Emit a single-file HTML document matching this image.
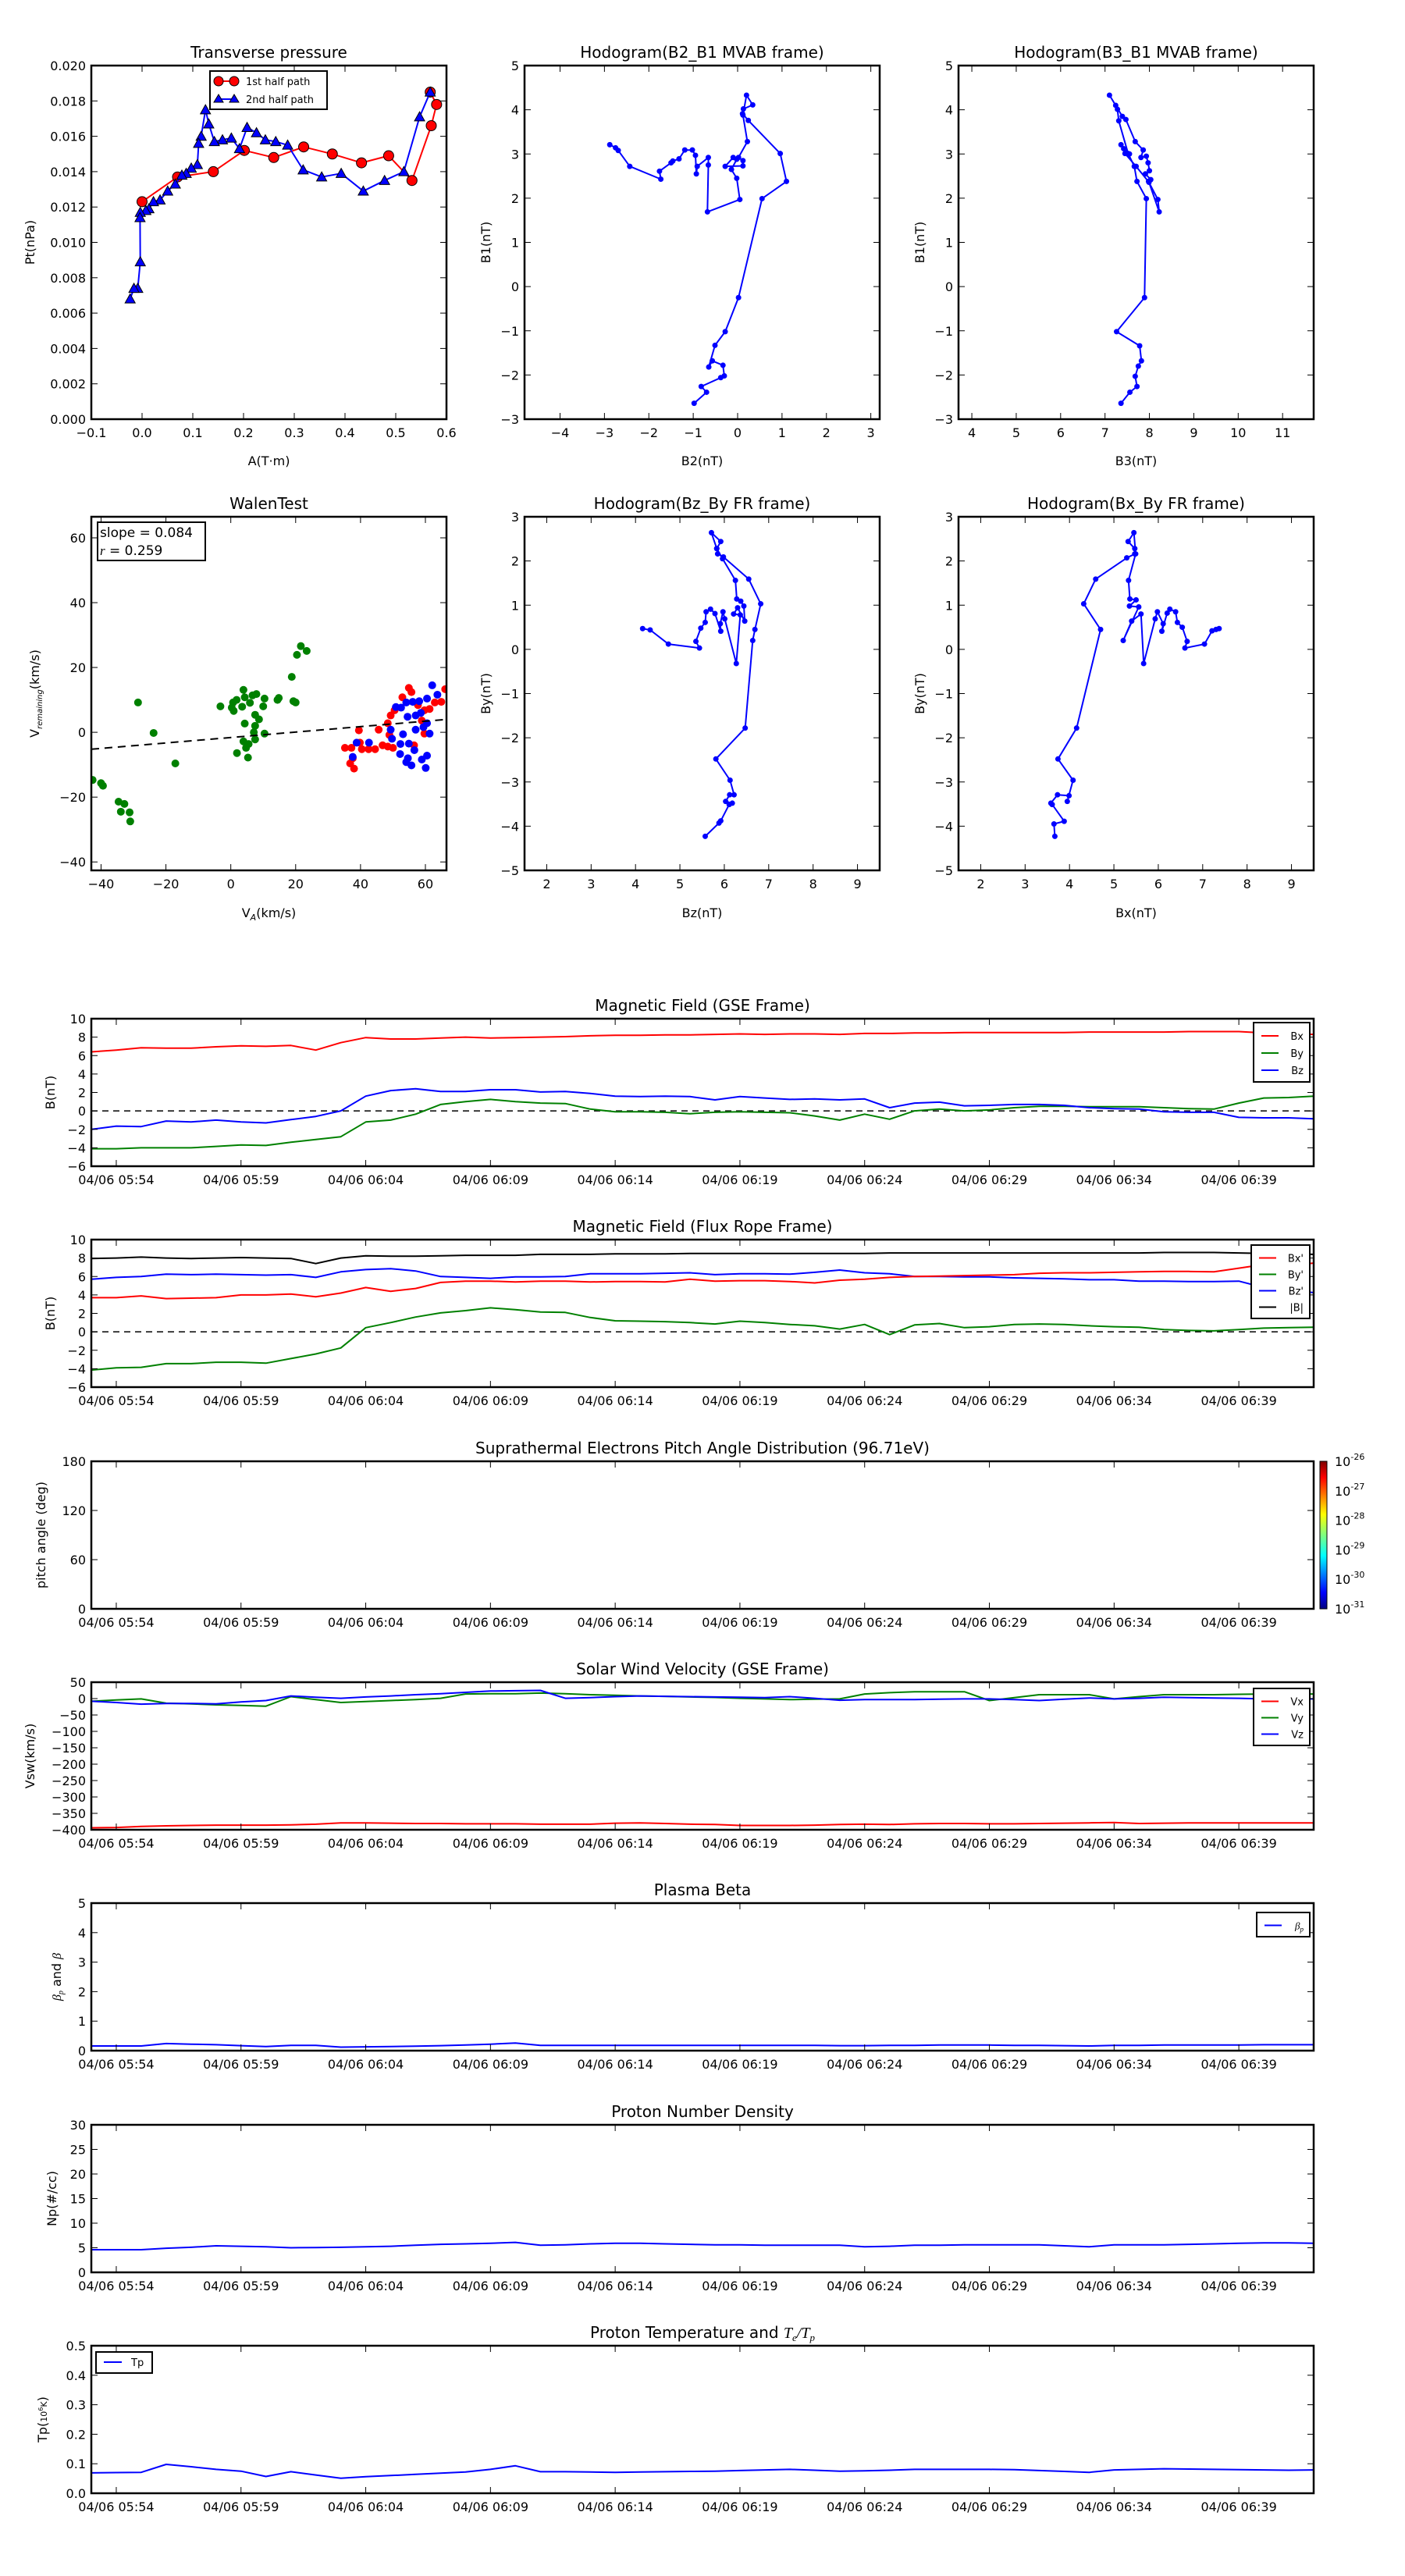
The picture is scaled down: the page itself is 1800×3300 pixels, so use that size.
<!DOCTYPE html>
<html><head><meta charset="utf-8"><title>Flux rope analysis</title>
<style>
html,body{margin:0;padding:0;background:#fff;}
svg{display:block;font-family:"DejaVu Sans","Liberation Sans",sans-serif;}
</style></head>
<body>
<svg id="fig" xmlns="http://www.w3.org/2000/svg" width="1800" height="3300" viewBox="0 0 1800 3300">
<defs>
<linearGradient id="jet" x1="0" y1="1" x2="0" y2="0">
<stop offset="0" stop-color="#00007f"/><stop offset="0.11" stop-color="#0000ff"/><stop offset="0.36" stop-color="#00ffff"/><stop offset="0.5" stop-color="#7fff7f"/><stop offset="0.64" stop-color="#ffff00"/><stop offset="0.89" stop-color="#ff0000"/><stop offset="1" stop-color="#7f0000"/>
</linearGradient>
</defs>
</svg>
<script>
// ---------- DATA ----------
const ptRedA=[0.0,0.070,0.1405,0.2015,0.2595,0.3185,0.375,0.4325,0.486,0.532,0.570,0.5805,0.568];
const ptRedP=[0.0123,0.0137,0.0140,0.0152,0.0148,0.0154,0.0150,0.0145,0.0149,0.0135,0.0166,0.0178,0.0185];
const ptBlueA=[0.568,0.547,0.516,0.478,0.436,0.3925,0.354,0.3175,0.287,0.2635,0.243,0.2255,0.207,0.192,0.176,0.1585,0.1425,0.1315,0.125,0.1165,0.1115,0.109,0.097,0.087,0.0785,0.0655,0.0505,0.0355,0.0225,0.0135,0.0075,-0.0035,-0.004,-0.0035,-0.0085,-0.016,-0.0235];
const ptBlueP=[0.0185,0.0171,0.0140,0.0135,0.0129,0.0139,0.0137,0.0141,0.0155,0.0157,0.0158,0.0162,0.0165,0.0153,0.0159,0.0158,0.0157,0.0167,0.0175,0.0160,0.0156,0.0144,0.0142,0.0139,0.0138,0.0133,0.0129,0.0124,0.0123,0.0119,0.0118,0.0117,0.0114,0.0089,0.0074,0.0074,0.0068];

const h1B2=[-0.98,-0.70,-0.82,-0.38,-0.30,-0.33,-0.57,-0.65,-0.51,-0.28,0.02,0.55,1.10,0.96,0.24,0.11,0.13,0.34,0.20,0.12,0.22,0.02,0.12,0.12,-0.28,-0.10,-0.02,-0.14,-0.02,0.05,-0.68,-0.66,-0.66,-0.91,-0.93,-0.95,-1.02,-1.19,-1.32,-1.46,-1.50,-1.76,-1.73,-2.43,-2.69,-2.75,-2.88];
const h1B1=[-2.64,-2.39,-2.26,-2.06,-2.02,-1.78,-1.68,-1.82,-1.33,-1.02,-0.25,1.99,2.38,3.01,3.76,3.91,4.02,4.11,4.33,3.88,3.28,2.92,2.85,2.73,2.72,2.92,2.88,2.65,2.45,1.97,1.69,2.75,2.92,2.72,2.55,2.97,3.09,3.09,2.89,2.84,2.80,2.61,2.43,2.72,3.08,3.14,3.21];

const h2B3=[7.36,7.56,7.72,7.68,7.75,7.82,7.78,7.26,7.89,7.93,7.72,7.66,7.52,7.31,7.28,7.24,7.10,7.39,7.47,7.68,7.86,7.81,7.93,7.97,8.00,7.91,8.03,7.98,8.19,8.22,7.99,7.70,7.45,7.36,7.42,7.55];
const h2B1=[-2.64,-2.39,-2.26,-2.03,-1.80,-1.68,-1.34,-1.02,-0.25,1.99,2.38,2.72,3.01,3.75,4.01,4.10,4.33,3.85,3.78,3.28,3.09,2.92,2.95,2.80,2.62,2.55,2.42,2.38,1.97,1.69,2.36,2.72,3.01,3.21,3.12,3.00];

const wGreenVA=[-42.6,-40,-39.4,-34.6,-32.8,-33.9,-31.2,-31,-28.6,-23.8,-17.1,-3.2,0.3,0.9,0.7,1.8,3.9,4.3,3.5,5.9,6.7,7.9,10.4,10.0,7.5,8.7,4.3,7.5,7.1,10.4,7.5,3.9,5.5,4.7,1.9,5.3,14.4,14.8,19.3,20,18.8,20.4,21.6,23.4];
const wGreenVR=[-14.7,-15.7,-16.5,-21.4,-22.1,-24.5,-24.7,-27.5,9.2,-0.2,-9.6,8.0,7.6,6.6,9.2,10.0,13.1,10.8,7.9,9.1,11.4,11.8,10.4,8.0,5.4,4.0,2.7,2.0,0,-0.4,-2.2,-2.8,-3.6,-4.8,-6.4,-7.8,10.0,10.6,9.6,9.2,17.1,23.9,26.6,25.1];
const wRedVA=[35.2,37.2,38,36.8,37.6,39.5,39.8,40.4,42.5,44.5,46.8,48.4,50.0,45.6,48.4,48.9,49.3,50.5,52.9,54.9,55.7,56.5,59.7,59.7,61.3,62.9,64.9,66.1,57.7,58.9];
const wRedVR=[-4.8,-4.8,-11.2,-9.6,-8.0,0.6,-3.2,-5.2,-5.2,-5.2,-4.0,-4.4,-4.8,0.8,2.8,-0.8,5.2,6.8,10.8,13.7,12.4,-4.0,-0.4,6.8,7.2,9.2,9.4,13.3,8.4,3.6];
const wBlueVA=[38.8,37.6,42.6,49.3,49.7,50.9,52.5,54.1,56.1,58.1,60.5,62.1,63.7,54.5,53.1,52.3,54.9,56.6,52.2,54.6,54.1,55.7,58.9,60.5,60.1,57.0,58.6,57.0,59.4,61.3,60.5];
const wBlueVR=[-3.2,-7.6,-3.2,0.8,-2.0,7.8,7.6,9.2,9.4,9.6,10.4,14.5,11.6,4.8,-0.6,-3.6,-3.5,-5.5,-6.7,-8.0,-9.2,-10.2,-8.4,-7.2,-11.0,5.2,6.0,0.8,1.6,-0.4,2.8];
const walenSlope=0.084, walenIntercept=-1.6;

const h3Bz=[5.57,5.88,5.92,6.11,6.18,6.03,6.12,6.22,6.13,5.81,6.47,6.64,6.69,6.82,6.55,5.98,5.85,5.83,5.92,5.71,5.83,5.96,6.25,6.28,6.37,6.44,6.46,6.30,6.21,6.36,6.27,6.01,5.97,5.91,5.92,5.79,5.69,5.59,5.57,5.47,5.36,5.44,4.74,4.33,4.16];
const h3By=[-4.23,-3.93,-3.88,-3.51,-3.48,-3.44,-3.29,-3.29,-2.96,-2.48,-1.78,0.20,0.45,1.03,1.59,2.09,2.16,2.28,2.44,2.64,2.28,2.05,1.56,1.14,1.09,0.98,0.64,0.94,0.80,0.78,-0.32,0.69,0.85,0.58,0.41,0.81,0.91,0.85,0.61,0.48,0.18,0.03,0.12,0.44,0.47];

const h4Bx=[3.67,3.65,3.88,3.61,3.58,3.73,3.99,3.95,4.08,3.74,4.16,4.70,4.32,4.59,5.29,5.47,5.47,5.32,5.45,5.49,5.33,5.36,5.50,5.35,5.56,5.21,5.40,5.61,5.67,5.93,5.98,6.11,6.08,6.20,6.26,6.39,6.43,6.54,6.65,6.60,7.04,7.21,7.30,7.37];
const h4By=[-4.23,-3.95,-3.89,-3.51,-3.48,-3.29,-3.31,-3.44,-2.96,-2.48,-1.78,0.45,1.03,1.59,2.07,2.16,2.28,2.44,2.64,2.16,1.56,1.14,1.12,0.98,0.96,0.20,0.64,0.80,-0.32,0.69,0.85,0.58,0.41,0.82,0.91,0.85,0.61,0.50,0.18,0.03,0.12,0.42,0.45,0.47];

const timeTickIdx=[1,6,11,16,21,26,31,36,41,46];
const timeTickLabels=["04/06 05:54","04/06 05:59","04/06 06:04","04/06 06:09","04/06 06:14","04/06 06:19","04/06 06:24","04/06 06:29","04/06 06:34","04/06 06:39"];

const gseBx=[6.4,6.6,6.85,6.8,6.8,6.95,7.05,7.0,7.1,6.6,7.4,7.95,7.8,7.8,7.9,8.0,7.9,7.95,8.0,8.05,8.15,8.2,8.2,8.25,8.25,8.3,8.35,8.3,8.35,8.35,8.3,8.4,8.4,8.45,8.45,8.5,8.5,8.5,8.5,8.5,8.55,8.55,8.55,8.55,8.6,8.6,8.6,8.45,8.35,8.3];
const gseBy=[-4.1,-4.1,-4.0,-4.0,-4.0,-3.85,-3.7,-3.75,-3.4,-3.1,-2.8,-1.2,-1.0,-0.35,0.7,1.0,1.25,1.0,0.85,0.8,0.2,-0.1,-0.1,-0.15,-0.3,-0.15,-0.1,-0.15,-0.2,-0.55,-1.0,-0.35,-0.9,0.0,0.2,0.0,0.1,0.35,0.5,0.5,0.45,0.45,0.45,0.35,0.25,0.2,0.85,1.4,1.45,1.6];
const gseBz=[-2.0,-1.65,-1.7,-1.1,-1.2,-1.0,-1.2,-1.3,-0.95,-0.6,0.0,1.6,2.2,2.4,2.1,2.1,2.3,2.3,2.05,2.1,1.9,1.6,1.55,1.6,1.55,1.2,1.55,1.4,1.25,1.3,1.2,1.3,0.35,0.85,0.95,0.55,0.6,0.7,0.7,0.6,0.35,0.25,0.2,-0.1,-0.15,-0.15,-0.7,-0.75,-0.75,-0.85];

const frBx=[3.7,3.7,3.9,3.6,3.65,3.7,4.0,4.0,4.1,3.8,4.2,4.8,4.4,4.7,5.35,5.5,5.5,5.4,5.5,5.5,5.4,5.45,5.45,5.4,5.7,5.5,5.55,5.55,5.45,5.3,5.6,5.7,5.9,6.0,6.05,6.1,6.15,6.2,6.35,6.4,6.4,6.45,6.5,6.55,6.55,6.5,6.9,7.3,7.2,7.45];
const frBy=[-4.15,-3.9,-3.85,-3.45,-3.45,-3.3,-3.3,-3.4,-2.9,-2.4,-1.75,0.45,1.0,1.6,2.05,2.3,2.6,2.4,2.15,2.1,1.55,1.2,1.15,1.1,1.0,0.85,1.15,1.0,0.8,0.65,0.3,0.8,-0.3,0.75,0.9,0.45,0.55,0.8,0.85,0.8,0.65,0.55,0.5,0.25,0.15,0.1,0.25,0.4,0.45,0.5];
const frBz=[5.7,5.9,6.0,6.25,6.2,6.25,6.2,6.15,6.2,5.9,6.5,6.75,6.85,6.6,6.0,5.9,5.8,5.95,5.95,6.0,6.3,6.3,6.3,6.35,6.4,6.2,6.3,6.3,6.25,6.45,6.7,6.4,6.3,6.0,6.0,5.95,5.95,5.85,5.8,5.75,5.65,5.65,5.5,5.5,5.45,5.45,5.5,4.8,4.5,4.25];
const frBt=[7.95,8.0,8.1,8.0,7.95,8.0,8.05,8.0,7.95,7.4,8.0,8.25,8.2,8.2,8.25,8.3,8.3,8.3,8.4,8.4,8.4,8.45,8.45,8.45,8.5,8.5,8.5,8.5,8.5,8.5,8.5,8.5,8.55,8.55,8.55,8.55,8.55,8.55,8.55,8.55,8.55,8.55,8.55,8.6,8.6,8.6,8.55,8.5,8.45,8.4];

const pitchTicks=[0,60,120,180];
const cbarLabels=["-26","-27","-28","-29","-30","-31"];

const velVx=[-394,-393,-390,-388,-387,-386,-386,-386,-385,-383,-379,-379,-380,-381,-381,-382,-382,-382,-383,-383,-383,-380,-379,-381,-383,-384,-387,-387,-387,-386,-384,-383,-384,-382,-381,-381,-382,-382,-381,-380,-379,-378,-381,-380,-379,-379,-379,-379,-379,-379];
const velVy=[-8,-4,-1,-14,-16,-19,-21,-23,6,-3,-12,-9,-6,-3,1,14,15,15,17,15,12,10,8,7,5,3.5,1,-1,-3,-2,-1,14,18,21,21,21,-6,3,12,12,12,-1,6,12,12,12,13,14,14,14];
const velVz=[-8,-12,-17,-15,-15,-16,-10,-6,8,4,1,5,8,12,15,19,23,24,25,1,3,6,8,7,6,5,4,3,6,1,-5,-3,-3,-3,-2,-1,-1,-3,-6,-2,2,-1,1,4,3,2,1,-1,-1,-1];

const betaP=[0.16,0.16,0.16,0.24,0.22,0.20,0.17,0.14,0.18,0.18,0.12,0.13,0.14,0.15,0.17,0.19,0.22,0.26,0.18,0.18,0.18,0.18,0.18,0.18,0.18,0.18,0.18,0.18,0.18,0.18,0.17,0.17,0.18,0.18,0.19,0.19,0.19,0.18,0.18,0.17,0.16,0.18,0.18,0.19,0.19,0.19,0.19,0.2,0.2,0.2];
const densNp=[4.6,4.6,4.6,4.9,5.1,5.4,5.3,5.2,5.0,5.05,5.1,5.2,5.3,5.5,5.7,5.8,5.9,6.1,5.5,5.6,5.8,5.9,5.9,5.8,5.7,5.6,5.6,5.5,5.5,5.5,5.5,5.2,5.3,5.5,5.5,5.6,5.6,5.6,5.6,5.4,5.2,5.6,5.6,5.6,5.7,5.8,5.9,6.0,6.0,5.9];
const tempTp=[0.069,0.070,0.071,0.098,0.090,0.081,0.075,0.057,0.073,0.062,0.051,0.056,0.060,0.064,0.068,0.072,0.081,0.093,0.073,0.073,0.072,0.071,0.072,0.073,0.074,0.075,0.077,0.079,0.081,0.078,0.075,0.076,0.078,0.081,0.081,0.081,0.081,0.080,0.077,0.074,0.071,0.079,0.081,0.083,0.082,0.081,0.080,0.079,0.078,0.079];

// ---------- HELPERS ----------
const NS="http://www.w3.org/2000/svg";
const svg=document.getElementById('fig');
function mk(tag,parent){const e=document.createElementNS(NS,tag);parent.appendChild(e);return e;}
function set(e,o){for(const k in o)e.setAttribute(k,o[k]);return e;}
function fmt(v,d){const s=v.toFixed(d);return v<0?'\u2212'+s.slice(1):s;}
let clipN=0;
function makeAxes(name,x0,y0,w,h,xmin,xmax,ymin,ymax){
  const g=mk('g',svg);
  
  
  const ax={g,x0,y0,w,h,sx:v=>x0+(v-xmin)/(xmax-xmin)*w,sy:v=>y0+h-(v-ymin)/(ymax-ymin)*h};
  const cp=mk('clipPath',svg);cp.id='c'+(++clipN);
  set(mk('rect',cp),{x:x0,y:y0,width:w,height:h});
  ax.clip='url(#c'+clipN+')';
  return ax;
}
function frame(ax,xt,xl,yt,yl){
  const g=mk('g',ax.g);
  
  
  xt.forEach((v,i)=>{const x=ax.sx(v);
    set(mk('line',g),{x1:x,x2:x,y1:ax.y0+ax.h,y2:ax.y0+ax.h-8,stroke:'#000','stroke-width':1});
    set(mk('line',g),{x1:x,x2:x,y1:ax.y0,y2:ax.y0+8,stroke:'#000','stroke-width':1});
    const t=set(mk('text',g),{x:x,y:ax.y0+ax.h+23,'text-anchor':'middle','font-size':16});
    t.textContent=xl[i];
    
    
  });
  yt.forEach((v,i)=>{const y=ax.sy(v);
    set(mk('line',g),{x1:ax.x0,x2:ax.x0+8,y1:y,y2:y,stroke:'#000','stroke-width':1});
    set(mk('line',g),{x1:ax.x0+ax.w,x2:ax.x0+ax.w-8,y1:y,y2:y,stroke:'#000','stroke-width':1});
    const t=set(mk('text',g),{x:ax.x0-7,y:y+6,'text-anchor':'end','font-size':16});
    t.textContent=yl[i];
    
    
  });
  const r=set(mk('rect',ax.g),{x:ax.x0,y:ax.y0,width:ax.w,height:ax.h,fill:'none',stroke:'#000','stroke-width':2.5});
  
  
}
function title(ax,txt,html){
  const t=set(mk('text',ax.g),{x:ax.x0+ax.w/2,y:ax.y0-10,'text-anchor':'middle','font-size':20});
  if(html)t.innerHTML=html;else t.textContent=txt;
  
  
}
function xlabel(ax,txt,y,html){
  const t=set(mk('text',ax.g),{x:ax.x0+ax.w/2,y:y,'text-anchor':'middle','font-size':16});
  if(html)t.innerHTML=html;else t.textContent=txt;
  
  
}
function ylabel(ax,txt,x,html){
  const cy=ax.y0+ax.h/2;
  const t=set(mk('text',ax.g),{x:x,y:cy,'text-anchor':'middle','font-size':16,transform:'rotate(-90 '+x+' '+cy+')'});
  if(html)t.innerHTML=html;else t.textContent=txt;
  
  
}
function line(ax,xs,ys,color,name,w){
  const d=xs.map((x,i)=>(i?'L':'M')+ax.sx(x).toFixed(1)+','+ax.sy(ys[i]).toFixed(1)).join('');
  const p=set(mk('path',ax.g),{d:d,fill:'none',stroke:color,'stroke-width':w||2,'clip-path':ax.clip,'stroke-linejoin':'round'});
  
  
  return p;
}
function dots(ax,xs,ys,color,r,name,stroke){
  const g=mk('g',ax.g);
  
  
  g.setAttribute('clip-path',ax.clip);
  xs.forEach((x,i)=>{
    const c=set(mk('circle',g),{cx:ax.sx(x),cy:ax.sy(ys[i]),r:r,fill:color});
    if(stroke)set(c,{stroke:'#000','stroke-width':1});
    
    
  });
}
function tris(ax,xs,ys,color,s,name){
  const g=mk('g',ax.g);
  
  
  xs.forEach((x,i)=>{const cx=ax.sx(x),cy=ax.sy(ys[i]);
    const p=set(mk('polygon',g),{points:`${cx},${cy-s} ${cx-s},${cy+s*0.8} ${cx+s},${cy+s*0.8}`,fill:color,stroke:'#000','stroke-width':1});
    
    
  });
}
function range(a,b,s){const r=[];for(let v=a;v<=b+1e-9;v+=s)r.push(+v.toFixed(6));return r;}
function legend(ax,x,y,w,entries,rowH){
  const g=mk('g',ax.g);
  
  
  set(mk('rect',g),{x:x,y:y,width:w,height:entries.length*rowH+10,fill:'#fff',stroke:'#000','stroke-width':2});
  entries.forEach((e,i)=>{const cy=y+10+rowH*i+rowH/2-4;
    const eg=mk('g',g);
    
    
    set(mk('line',eg),{x1:x+10,x2:x+32,y1:cy,y2:cy,stroke:e.c,'stroke-width':2});
    const t=set(mk('text',eg),{x:x+w-8,y:cy+5,'text-anchor':'end','font-size':13});
    if(e.html)t.innerHTML=e.html;else t.textContent=e.t;
  });
}

// ---------- TOP ROW ----------
const C=[117,672,1228], W=455, R1=84, R2=662, H=453;
let ax=makeAxes('transverse-pressure-chart',C[0],R1,W,H,-0.1,0.6,0,0.020);
line(ax,ptRedA,ptRedP,'#ff0000','first-half-line');
dots(ax,ptRedA,ptRedP,'#ff0000',6.5,'first-half-markers',true);
line(ax,ptBlueA,ptBlueP,'#0000ff','second-half-line');
tris(ax,ptBlueA,ptBlueP,'#0000ff',6.5,'second-half-markers');
frame(ax,range(-0.1,0.6,0.1),range(-0.1,0.6,0.1).map(v=>fmt(v,1)),range(0,0.02,0.002),range(0,0.02,0.002).map(v=>fmt(v,3)));
title(ax,'Transverse pressure');xlabel(ax,'A(T·m)',596);ylabel(ax,'Pt(nPa)',44);
{const g=mk('g',ax.g);
 
 
 set(mk('rect',g),{x:269,y:91,width:150,height:49,fill:'#fff',stroke:'#000','stroke-width':2});
 set(mk('line',g),{x1:280,x2:300,y1:104,y2:104,stroke:'#f00','stroke-width':2});
 set(mk('circle',g),{cx:280,cy:104,r:6,fill:'#f00',stroke:'#000'});set(mk('circle',g),{cx:300,cy:104,r:6,fill:'#f00',stroke:'#000'});
 set(mk('line',g),{x1:280,x2:300,y1:127,y2:127,stroke:'#00f','stroke-width':2});
 set(mk('polygon',g),{points:'280,121 274,131 286,131',fill:'#00f',stroke:'#000'});set(mk('polygon',g),{points:'300,121 294,131 306,131',fill:'#00f',stroke:'#000'});
 const t1=set(mk('text',g),{x:315,y:109,'font-size':13});t1.textContent='1st half path';
 const t2=set(mk('text',g),{x:315,y:132,'font-size':13});t2.textContent='2nd half path';}

ax=makeAxes('hodogram-b2-b1-chart',C[1],R1,W,H,-4.8,3.2,-3,5);
line(ax,h1B2,h1B1,'#0000ff','hodogram-line');dots(ax,h1B2,h1B1,'#0000ff',3.5,'hodogram-points');
frame(ax,range(-4,3,1),range(-4,3,1).map(v=>fmt(v,0)),range(-3,5,1),range(-3,5,1).map(v=>fmt(v,0)));
title(ax,'Hodogram(B2_B1 MVAB frame)');xlabel(ax,'B2(nT)',596);ylabel(ax,'B1(nT)',628);

ax=makeAxes('hodogram-b3-b1-chart',C[2],R1,W,H,3.7,11.7,-3,5);
line(ax,h2B3,h2B1,'#0000ff','hodogram-line');dots(ax,h2B3,h2B1,'#0000ff',3.5,'hodogram-points');
frame(ax,range(4,11,1),range(4,11,1).map(v=>fmt(v,0)),range(-3,5,1),range(-3,5,1).map(v=>fmt(v,0)));
title(ax,'Hodogram(B3_B1 MVAB frame)');xlabel(ax,'B3(nT)',596);ylabel(ax,'B1(nT)',1184);

// ---------- SECOND ROW ----------
ax=makeAxes('walen-test-chart',C[0],R2,W,H,-43,66.5,-42.6,66.5);
dots(ax,wGreenVA,wGreenVR,'#008000',5,'walen-green-points');
dots(ax,wRedVA,wRedVR,'#ff0000',5,'walen-red-points');
dots(ax,wBlueVA,wBlueVR,'#0000ff',5,'walen-blue-points');
line(ax,[-43,66.5],[walenSlope*-43+walenIntercept,walenSlope*66.5+walenIntercept],'#000','walen-fit-line',2).setAttribute('stroke-dasharray','10,7');
frame(ax,range(-40,60,20),range(-40,60,20).map(v=>fmt(v,0)),range(-40,60,20),range(-40,60,20).map(v=>fmt(v,0)));
title(ax,'WalenTest');xlabel(ax,'',1175,'V<tspan font-size="11" dy="4" font-style="italic">A</tspan><tspan dy="-4">(km/s)</tspan>');
ylabel(ax,'',50,'V<tspan font-size="10" dy="4" font-style="italic">remaining</tspan><tspan dy="-4">(km/s)</tspan>');
{const g=mk('g',ax.g);
 
 
 set(mk('rect',g),{x:125,y:669,width:138,height:49,fill:'#fff',stroke:'#000','stroke-width':2});
 const t1=set(mk('text',g),{x:128,y:688,'font-size':17});t1.textContent='slope = 0.084';
 const t2=set(mk('text',g),{x:128,y:711,'font-size':17});t2.innerHTML='<tspan font-style="italic" font-family="Liberation Serif">r</tspan> = 0.259';}

ax=makeAxes('hodogram-bz-by-chart',C[1],R2,W,H,1.5,9.5,-5,3);
line(ax,h3Bz,h3By,'#0000ff','hodogram-line');dots(ax,h3Bz,h3By,'#0000ff',3.5,'hodogram-points');
frame(ax,range(2,9,1),range(2,9,1).map(v=>fmt(v,0)),range(-5,3,1),range(-5,3,1).map(v=>fmt(v,0)));
title(ax,'Hodogram(Bz_By FR frame)');xlabel(ax,'Bz(nT)',1175);ylabel(ax,'By(nT)',628);

ax=makeAxes('hodogram-bx-by-chart',C[2],R2,W,H,1.5,9.5,-5,3);
line(ax,h4Bx,h4By,'#0000ff','hodogram-line');dots(ax,h4Bx,h4By,'#0000ff',3.5,'hodogram-points');
frame(ax,range(2,9,1),range(2,9,1).map(v=>fmt(v,0)),range(-5,3,1),range(-5,3,1).map(v=>fmt(v,0)));
title(ax,'Hodogram(Bx_By FR frame)');xlabel(ax,'Bx(nT)',1175);ylabel(ax,'By(nT)',1184);

// ---------- TIME SERIES ----------
const TX=117,TW=1566,TH=189,TOPS=[1305,1588,1872,2155,2438,2722,3005];
const idx=gseBx.map((_,i)=>i);
function ts(name,k,ymin,ymax,yt,yl){const a=makeAxes(name,TX,TOPS[k],TW,TH,0,49,ymin,ymax);a.yt=yt;a.yl=yl;return a;}
function tsFrame(a){frame(a,timeTickIdx,timeTickLabels,a.yt,a.yl);}
function zeroLine(a){const p=set(mk('line',a.g),{x1:a.x0,x2:a.x0+a.w,y1:a.sy(0),y2:a.sy(0),stroke:'#000','stroke-width':1.5,'stroke-dasharray':'8,6'});}

ax=ts('gse-magnetic-field-chart',0,-6,10,range(-6,10,2),range(-6,10,2).map(v=>fmt(v,0)));
zeroLine(ax);
line(ax,idx,gseBx,'#ff0000','bx-line');line(ax,idx,gseBy,'#008000','by-line');line(ax,idx,gseBz,'#0000ff','bz-line');
tsFrame(ax);title(ax,'Magnetic Field (GSE Frame)');ylabel(ax,'B(nT)',70);
legend(ax,1606,1310,72,[{t:'Bx',c:'#f00'},{t:'By',c:'#008000'},{t:'Bz',c:'#00f'}],22);

ax=ts('flux-rope-magnetic-field-chart',1,-6,10,range(-6,10,2),range(-6,10,2).map(v=>fmt(v,0)));
zeroLine(ax);
line(ax,idx,frBt,'#000','bt-line');line(ax,idx,frBz,'#0000ff','bz-prime-line');line(ax,idx,frBx,'#ff0000','bx-prime-line');line(ax,idx,frBy,'#008000','by-prime-line');
tsFrame(ax);title(ax,'Magnetic Field (Flux Rope Frame)');ylabel(ax,'B(nT)',70);
legend(ax,1603,1595,75,[{t:"Bx'",c:'#f00'},{t:"By'",c:'#008000'},{t:"Bz'",c:'#00f'},{t:'|B|',c:'#000'}],21);

ax=ts('pitch-angle-chart',2,0,180,pitchTicks,pitchTicks.map(String));
tsFrame(ax);title(ax,'Suprathermal Electrons Pitch Angle Distribution (96.71eV)');ylabel(ax,'pitch angle (deg)',58);
{const g=mk('g',svg);
 
 
 set(mk('rect',g),{x:1691,y:1872,width:9,height:189,fill:'url(#jet)',stroke:'#000','stroke-width':1});
 cbarLabels.forEach((l,i)=>{const y=1872+i*189/5;
   const t=set(mk('text',g),{x:1710,y:y+6,'font-size':16});
   t.innerHTML='10<tspan font-size="11" dy="-8">'+l+'</tspan>';
   
   
 });}

ax=ts('solar-wind-velocity-chart',3,-400,50,range(-400,50,50),range(-400,50,50).map(v=>fmt(v,0)));
line(ax,idx,velVx,'#ff0000','vx-line');line(ax,idx,velVy,'#008000','vy-line');line(ax,idx,velVz,'#0000ff','vz-line');
tsFrame(ax);title(ax,'Solar Wind Velocity (GSE Frame)');ylabel(ax,'Vsw(km/s)',44);
legend(ax,1606,2163,72,[{t:'Vx',c:'#f00'},{t:'Vy',c:'#008000'},{t:'Vz',c:'#00f'}],21);

ax=ts('plasma-beta-chart',4,0,5,range(0,5,1),range(0,5,1).map(v=>fmt(v,0)));
line(ax,idx,betaP,'#0000ff','beta-line');
tsFrame(ax);title(ax,'Plasma Beta');ylabel(ax,'',78,'<tspan font-style="italic" font-family="Liberation Serif">β<tspan font-size="10" dy="3">p</tspan></tspan><tspan dy="-3"> and </tspan><tspan font-style="italic" font-family="Liberation Serif">β</tspan>');
legend(ax,1610,2450,68,[{html:'<tspan font-style="italic" font-family="Liberation Serif">β<tspan font-size="9" dy="3">p</tspan></tspan>',c:'#00f'}],21);

ax=ts('proton-density-chart',5,0,30,range(0,30,5),range(0,30,5).map(v=>fmt(v,0)));
line(ax,idx,densNp,'#0000ff','density-line');
tsFrame(ax);title(ax,'Proton Number Density');ylabel(ax,'Np(#/cc)',72);

ax=ts('proton-temperature-chart',6,0,0.5,range(0,0.5,0.1),range(0,0.5,0.1).map(v=>fmt(v,1)));
line(ax,idx,tempTp,'#0000ff','tp-line');
tsFrame(ax);title(ax,'','Proton Temperature and <tspan font-style="italic" font-family="Liberation Serif">T<tspan font-size="13" dy="4">e</tspan><tspan dy="-4">/T</tspan><tspan font-size="13" dy="4">p</tspan></tspan>');
ylabel(ax,'',60,'Tp(<tspan font-size="11">10<tspan dy="-5" font-size="8">6</tspan><tspan dy="5">K</tspan></tspan>)');
{const g=mk('g',ax.g);
 
 
 set(mk('rect',g),{x:123,y:3013,width:72,height:27,fill:'#fff',stroke:'#000','stroke-width':2});
 set(mk('line',g),{x1:133,x2:156,y1:3026,y2:3026,stroke:'#00f','stroke-width':2});
 const t=set(mk('text',g),{x:168,y:3031,'font-size':13});t.textContent='Tp';}
</script>
</body></html>
